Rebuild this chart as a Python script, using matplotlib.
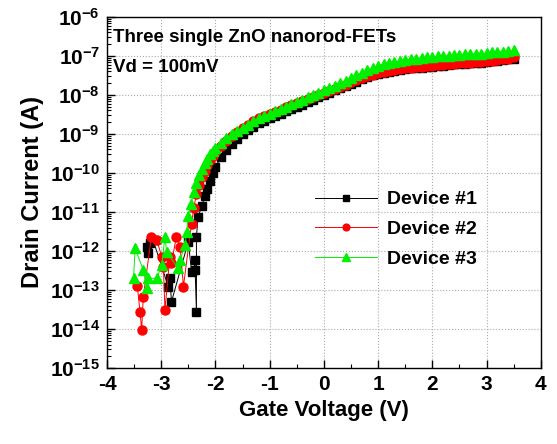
import matplotlib
matplotlib.use("Agg")
import matplotlib.pyplot as plt
import numpy as np
from matplotlib.ticker import FixedLocator, LogLocator, NullFormatter, FuncFormatter

plt.rcParams['font.family'] = ['Liberation Sans', 'DejaVu Sans']
plt.rcParams['font.weight'] = 'bold'
plt.rcParams['axes.unicode_minus'] = False
plt.rcParams['mathtext.fontset'] = 'custom'
plt.rcParams['mathtext.bf'] = 'Liberation Sans:bold'
plt.rcParams['mathtext.rm'] = 'Liberation Sans:bold'

# Gate voltages of the on-state part (shared by the three devices)
vg_on = [-2.0, -1.9, -1.8, -1.7, -1.6, -1.5, -1.4, -1.3, -1.2, -1.1,
         -1.0, -0.9, -0.8, -0.7, -0.6, -0.5, -0.4, -0.3, -0.2, -0.1,
         0.0, 0.1, 0.2, 0.3, 0.4, 0.5, 0.6, 0.7, 0.8, 0.9,
         1.0, 1.1, 1.2, 1.3, 1.4, 1.5, 1.6, 1.7, 1.8, 1.9,
         2.0, 2.1, 2.2, 2.3, 2.4, 2.5, 2.6, 2.7, 2.8, 2.9,
         3.0, 3.1, 3.2, 3.3, 3.4, 3.5]

# log10 of drain current (A)
dev1_on = [-9.85, -9.6, -9.4, -9.25, -9.12, -9.0, -8.9, -8.81, -8.72, -8.66,
           -8.6, -8.54, -8.48, -8.42, -8.36, -8.3, -8.25, -8.18, -8.12, -8.06,
           -8.0, -7.94, -7.88, -7.83, -7.78, -7.72, -7.66, -7.6, -7.55, -7.5,
           -7.46, -7.43, -7.4, -7.38, -7.36, -7.34, -7.32, -7.31, -7.3, -7.29,
           -7.28, -7.26, -7.25, -7.23, -7.22, -7.21, -7.2, -7.19, -7.18, -7.17,
           -7.16, -7.14, -7.12, -7.11, -7.09, -7.07]
dev2_on = [-9.45, -9.3, -9.17, -9.05, -8.95, -8.85, -8.76, -8.67, -8.6, -8.54,
           -8.48, -8.43, -8.38, -8.32, -8.27, -8.21, -8.16, -8.1, -8.05, -8.0,
           -7.95, -7.89, -7.84, -7.79, -7.74, -7.68, -7.62, -7.57, -7.52, -7.48,
           -7.44, -7.41, -7.38, -7.36, -7.34, -7.32, -7.3, -7.29, -7.28, -7.27,
           -7.26, -7.24, -7.23, -7.21, -7.2, -7.19, -7.18, -7.17, -7.16, -7.15,
           -7.14, -7.12, -7.1, -7.09, -7.07, -7.04]
dev3_on = [-9.35, -9.22, -9.1, -9.0, -8.92, -8.84, -8.76, -8.68, -8.6, -8.54,
           -8.48, -8.42, -8.36, -8.3, -8.24, -8.18, -8.12, -8.06, -8.0, -7.94,
           -7.88, -7.82, -7.76, -7.7, -7.64, -7.57, -7.5, -7.43, -7.37, -7.31,
           -7.25, -7.21, -7.18, -7.15, -7.13, -7.11, -7.09, -7.07, -7.05, -7.04,
           -7.03, -7.01, -7.0, -6.99, -6.98, -6.97, -6.96, -6.955, -6.95, -6.94,
           -6.93, -6.91, -6.9, -6.89, -6.88, -6.86]

# sub-threshold / noise part (Vg < -2 V)
dev1_vg_sub = [-3.27, -3.24, -3.21, -3.15, -2.87, -2.84, -2.81, -2.5, -2.44, -2.38,
               -2.38, -2.35, -2.35, -2.32, -2.25, -2.2, -2.15, -2.1, -2.05]
dev1_sub = [-11.89, -12.06, -11.8, -11.72, -12.91, -12.69, -13.3, -11.76, -12.53, -12.49,
            -12.23, -13.56, -11.63, -11.12, -10.85, -10.6, -10.4, -10.2, -10.0]

dev2_vg_sub = [-3.44, -3.39, -3.36, -3.33, -3.18, -3.08, -2.99, -2.96, -2.93, -2.84,
               -2.81, -2.72, -2.65, -2.59, -2.44, -2.4, -2.35, -2.3, -2.25, -2.2,
               -2.15, -2.1, -2.05]
dev2_sub = [-12.9, -13.56, -14.03, -13.17, -11.63, -11.72, -12.15, -12.4, -13.51, -12.15,
            -12.32, -11.63, -11.89, -12.91, -11.3, -10.9, -10.55, -10.3, -10.1, -9.95,
            -9.8, -9.68, -9.56]

dev3_vg_sub = [-3.51, -3.48, -3.33, -3.27, -3.24, -3.08, -2.99, -2.93, -2.9, -2.69,
               -2.65, -2.56, -2.53, -2.5, -2.45, -2.4, -2.35, -2.3, -2.25, -2.2,
               -2.15, -2.1, -2.05]
dev3_sub = [-12.7, -11.93, -12.49, -12.96, -12.7, -12.7, -12.36, -11.63, -12.02, -12.44,
            -12.23, -11.85, -11.51, -11.1, -10.8, -10.5, -10.25, -10.05, -9.9, -9.75,
            -9.63, -9.52, -9.43]

labels = ['Device #1', 'Device #2', 'Device #3']

fig = plt.figure(figsize=(5.57, 4.44), dpi=100)
ax = fig.add_axes([0.192, 0.171, 0.779, 0.791])

series = [
    (dev1_vg_sub, dev1_sub, dev1_on, 'black', 's', 5.5),
    (dev2_vg_sub, dev2_sub, dev2_on, 'red', 'o', 6.5),
    (dev3_vg_sub, dev3_sub, dev3_on, '#00f000', '^', 7),
]
for (vs, ls, lon, c, m, ms), lab in zip(series, labels):
    x = np.array(vs + vg_on)
    y = 10.0 ** np.array(ls + lon)
    ax.plot(x, y, color=c, lw=0.7, marker=m, ms=ms, mec=c, mfc=c, label=lab)

ax.set_yscale('log')
ax.set_xlim(-4, 4)
ax.set_ylim(1e-15, 1e-6)

ax.xaxis.set_major_locator(FixedLocator(range(-4, 5)))
ax.xaxis.set_minor_locator(FixedLocator(np.arange(-3.5, 4, 1.0)))
ax.yaxis.set_major_locator(FixedLocator([10.0 ** k for k in range(-15, -5)]))
ax.yaxis.set_minor_locator(LogLocator(base=10, subs=np.arange(2, 10), numticks=30))
ax.yaxis.set_minor_formatter(NullFormatter())
ax.yaxis.set_major_formatter(FuncFormatter(
    lambda v, p: r'$\mathbf{10^{%d}}$' % int(round(np.log10(v)))))

ax.tick_params(which='major', direction='in', length=6, width=1, labelsize=15, pad=5)
ax.tick_params(which='minor', direction='in', length=3, width=0.8)
for t in ax.get_xticklabels():
    t.set_fontweight('bold')

ax.grid(True, which='major', linestyle=':', color='#aaaaaa', linewidth=0.8)
for s in ax.spines.values():
    s.set_linewidth(1.0)

ax.set_xlabel('Gate Voltage (V)', fontsize=16, fontweight='bold', labelpad=4)
ax.set_ylabel('Drain Current (A)', fontsize=17, fontweight='bold', labelpad=4)

ax.text(0.014, 0.94, 'Three single ZnO nanorod-FETs', transform=ax.transAxes,
        fontsize=13.5, fontweight='bold', va='center', ha='left')
ax.text(0.014, 0.855, 'Vd = 100mV', transform=ax.transAxes,
        fontsize=13.5, fontweight='bold', va='center', ha='left')

leg = ax.legend(loc='upper left', bbox_to_anchor=(0.48, 0.505), frameon=False,
                fontsize=14, handlelength=3.2, handletextpad=0.5, labelspacing=0.62,
                borderaxespad=0, borderpad=0, numpoints=1, markerscale=0.75)
for t in leg.get_texts():
    t.set_fontweight('bold')

fig.savefig('out.png', dpi=100)
